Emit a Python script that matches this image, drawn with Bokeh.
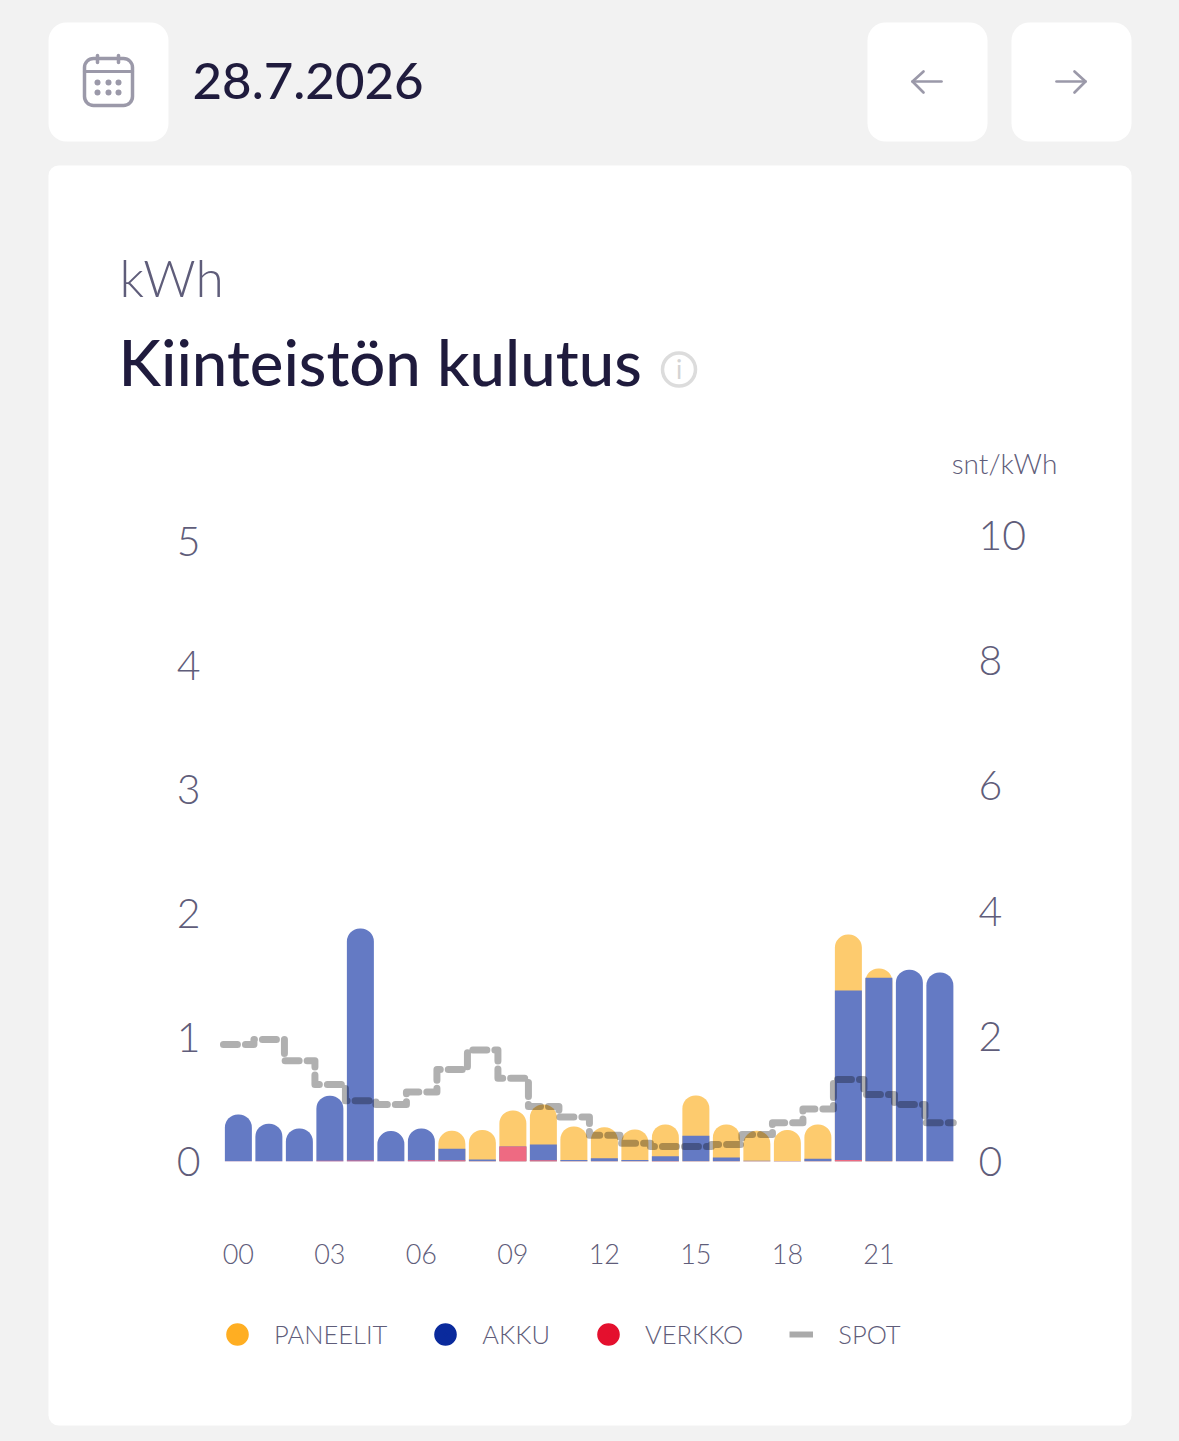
from bokeh.plotting import figure
from bokeh.embed import file_html
from bokeh.resources import INLINE
from bokeh.core.properties import value
from bokeh.models import Range1d, LinearAxis, FixedTicker, Legend, LegendItem

hours = list(range(24))
verkko = [.002,.002,.002,.006,.008,.002,.01,.01,.002,.121,.01,.002,.002,.002,.004,.002,.002,.002,.002,.002,.012,.002,.002,.002]
akku = [.377,.302,.264,.524,1.871,.243,.256,.092,.014,0,.127,.01,.025,.011,.039,.205,.03,.004,.003,.02,1.367,1.479,1.544,1.522]
paneelit = [0,0,0,0,0,0,0,.145,.239,.29,.323,.27,.25,.245,.255,.325,.266,.241,.25,.276,.451,.075,0,0]
spot = [1.87,1.95,1.61,1.23,.97,.91,1.11,1.47,1.78,1.33,.88,.71,.42,.29,.24,.24,.27,.43,.62,.84,1.31,1.07,.91,.62]
x_tick_labels = {0:"00",3:"03",6:"06",9:"09",12:"12",15:"15",18:"18",21:"21"}

BG="#f2f2f2"; INK="#1f1b3d"; MUTED="#5f5d7a"; ICON="#9b99a9"
YEL="#fdcb6e"; BLU="#647ac4"; RED="#ee6a82"
FONT="Lato"; LIGHT="Lato Light"; MED="Lato Medium"
NAN=float("nan")

W,H=1179,1441
ABS={"position":"absolute","left":"0px","top":"0px"}

# ---------- decoration layer: page-pixel coordinates ----------
d=figure(width=W,height=H,output_backend="svg",toolbar_location=None,
         x_range=Range1d(0,W),y_range=Range1d(H,0),min_border=0,
         background_fill_color=BG,border_fill_color=BG,outline_line_color=None,styles=ABS)
d.axis.visible=False; d.grid.visible=False

def box(l,r,t,b,radius,fill="white",line=None,lw=0):
    d.quad(left=[l],right=[r],top=[t],bottom=[b],fill_color=fill,fill_alpha=1 if fill else 0,
           line_color=line,line_width=lw,border_radius=radius)
def path(xs,ys,lw=3,color=ICON):
    d.line(xs,ys,line_color=color,line_width=lw,line_cap="round",line_join="round")
def text(x,y,s,size,color=MUTED,font=FONT,align="left"):
    d.text([x],[y-0.41*float(size[:-2])],text=[s],text_font=value(font),text_font_size=value(size),text_color=color,
           text_align=align,text_baseline="alphabetic")

box(48,1131,165,1425,10)
box(48,168,22,141,18); box(867,987,22,141,18); box(1011,1131,22,141,18)
box(84,132,58,105,9,fill=None,line=ICON,lw=3.5)
path([84,132],[71,71],lw=3); path([97,97],[55,62],lw=3.5); path([118,118],[55,62],lw=3.5)
d.scatter([97,108,118,97,108,118],[82,82,82,92,92,92],size=6,marker="circle",fill_color=ICON,line_color=None)
path([912,941],[81,81],lw=2.7); path([923,912,923],[71,81,92],lw=2.7)
path([1056,1085],[81,81],lw=2.7); path([1074,1085,1074],[71,81,92],lw=2.7)
d.scatter([678.5],[369],size=33,marker="circle",fill_alpha=0,line_color="#dcdcdc",line_width=3.5)
text(678.5,379,"i","26px",color="#d4d4d4",align="center")

text(192,101,"28.7.2026","51px",color=INK,font=MED)
text(119,298,"kWh","51.5px",font=LIGHT)
text(118,387,"Kiinteistön kulutus","63.5px",color=INK,font=MED)
text(1004,474,"snt/kWh","28px",font=LIGHT,align="center")

def dot(c):
    return d.scatter(x=[NAN],y=[NAN],size=10,marker="circle",fill_color=c,line_color=c,line_width=13)
r1=dot("#ffae22"); r2=dot("#0a2a9c"); r3=dot("#e4102e")
r4=d.line(x=[NAN,NAN],y=[NAN,NAN],line_color="#aaaaaa",line_width=6)
leg=Legend(items=[LegendItem(label="PANEELIT",renderers=[r1]),LegendItem(label="AKKU",renderers=[r2]),
                  LegendItem(label="VERKKO",renderers=[r3]),LegendItem(label="SPOT",renderers=[r4])],
           orientation="horizontal",location=(225,92),background_fill_alpha=0,border_line_color=None,
           glyph_width=24,glyph_height=24,label_standoff=25,spacing=46,padding=0,margin=0,
           label_text_font=LIGHT,label_text_font_size="25.5px",label_text_color=MUTED,label_height=30)
d.add_layout(leg)

# ---------- chart layer ----------
FL,FR,FT,FB=215,965,520,1161
p=figure(width=W,height=H,output_backend="svg",toolbar_location=None,
         x_range=Range1d(-0.75,23.84),y_range=Range1d(0,(FB-FT)/124.0),
         min_border_left=FL,min_border_right=W-FR,min_border_top=FT,min_border_bottom=H-FB,
         frame_width=FR-FL,frame_height=FB-FT,
         background_fill_alpha=0,border_fill_alpha=0,outline_line_color=None,styles=ABS)
p.xgrid.visible=False; p.ygrid.visible=False
p.extra_y_ranges={"spot":Range1d(0,(FB-FT)/62.6)}

def style(ax,size):
    ax.axis_line_color=None; ax.major_tick_line_color=None; ax.minor_tick_line_color=None
    ax.major_label_text_font=LIGHT; ax.major_label_text_color=MUTED
    ax.major_label_text_font_size=size
p.xaxis.ticker=FixedTicker(ticks=list(x_tick_labels))
p.xaxis.major_label_overrides=x_tick_labels
style(p.xaxis[0],"27px"); p.xaxis.major_label_standoff=76
p.yaxis.ticker=FixedTicker(ticks=[0,1,2,3,4,5])
style(p.yaxis[0],"41px"); p.yaxis.major_label_standoff=9
ra=LinearAxis(y_range_name="spot",ticker=FixedTicker(ticks=[0,2,4,6,8,10]))
style(ra,"41px"); ra.major_label_standoff=7
p.add_layout(ra,"right")

total=[a+b+c for a,b,c in zip(verkko,akku,paneelit)]
blue_top=[a+b for a,b in zip(verkko,akku)]
W_BAR=27/30.5
has=[h for h in hours if paneelit[h]>0]
no=[h for h in hours if paneelit[h]==0]
p.vbar(x=has,top=[total[h] for h in has],bottom=0,width=W_BAR,fill_color=YEL,line_color=None,border_radius=(13,13,0,0))
p.vbar(x=has,top=[blue_top[h] for h in has],bottom=0,width=W_BAR,fill_color=BLU,line_color=None)
p.vbar(x=no,top=[blue_top[h] for h in no],bottom=0,width=W_BAR,fill_color=BLU,line_color=None,border_radius=(13,13,0,0))
p.vbar(x=hours,top=verkko,bottom=0,width=W_BAR,fill_color=RED,line_color=None)

sx=[];sy=[]
for h,v in zip(hours,spot):
    sx+= [h-0.49, min(h+0.51,23.44)]; sy+=[v,v]
p.line(sx,sy,y_range_name="spot",line_color="black",line_alpha=.31,line_width=7,
       line_dash="14 8",line_cap="round",line_join="round")

html=file_html([d,p],INLINE)
html=html.replace("<head>","<head><style>html,body{background:%s}</style>"%BG,1)
open("out.html","w").write(html)
